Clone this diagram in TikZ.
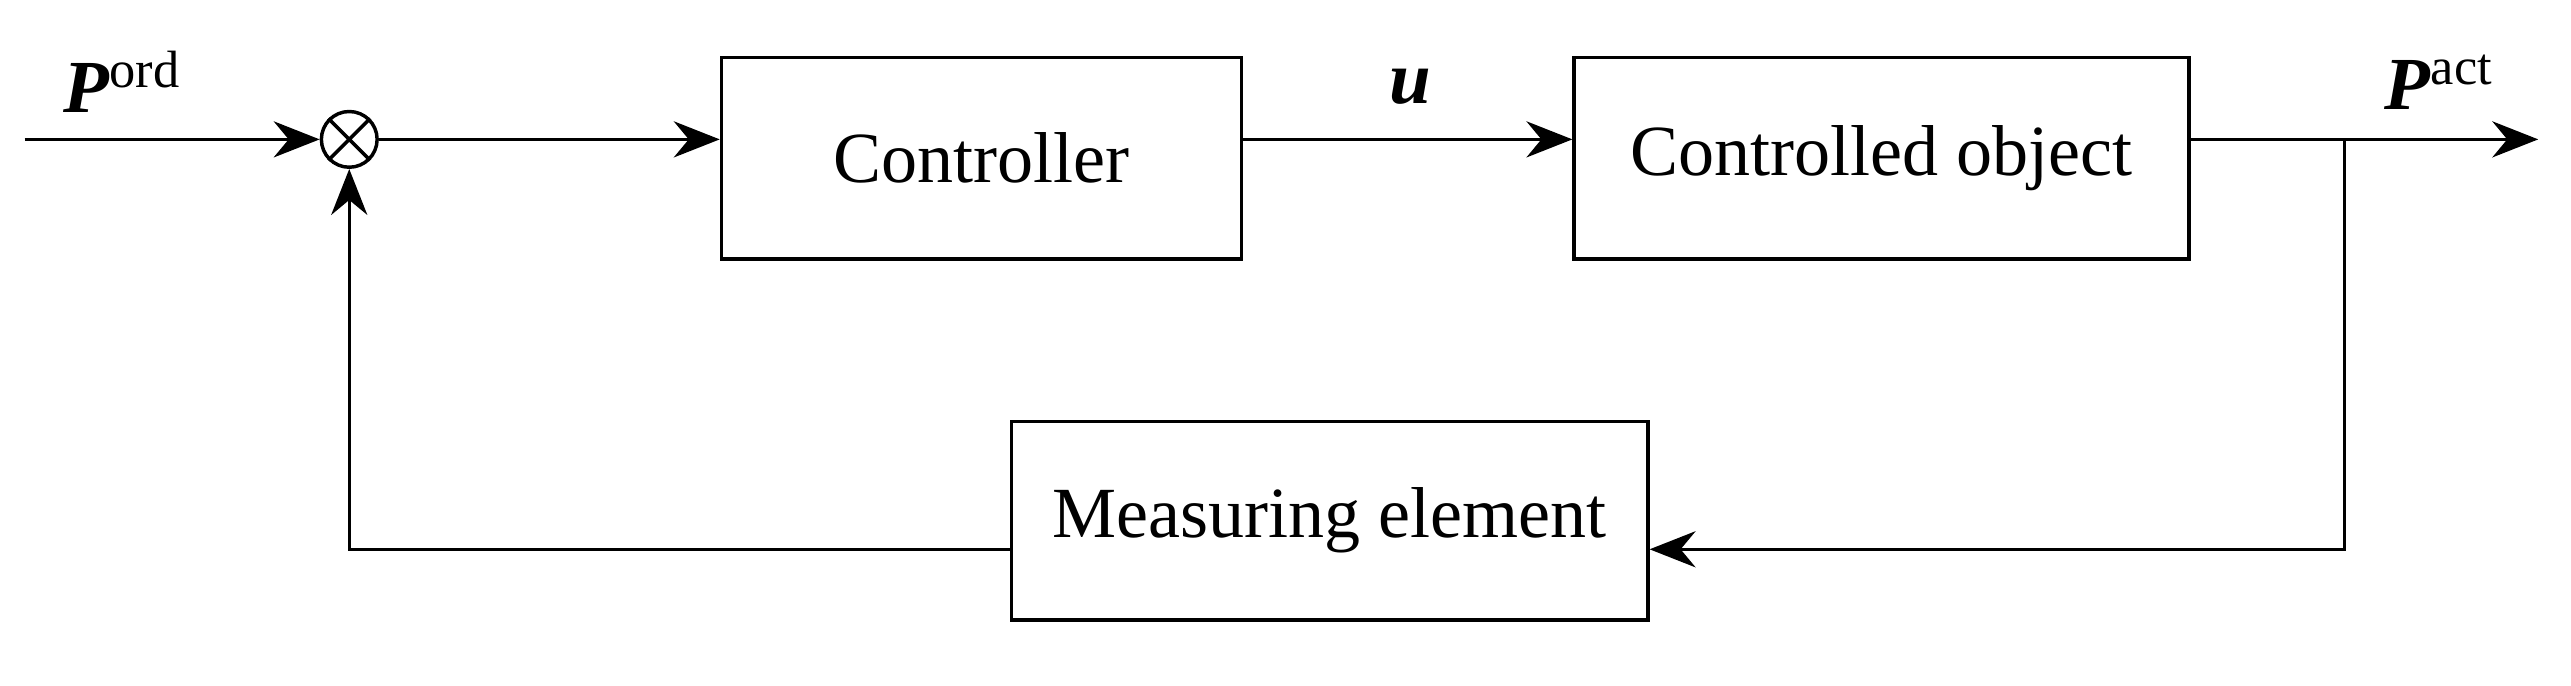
\documentclass[tikz,border=0pt]{standalone}
\usepackage{fontspec}
\setmainfont{Liberation Serif}
\usetikzlibrary{calc,positioning,arrows.meta}
\tikzset{>={Stealth[width=2.2mm,length=2.8mm]}}
\begin{document}
\begin{tikzpicture}
          \tikzstyle{block} = [draw=black, line width=0.6pt, minimum height=1.23cm, font=\fontsize{12.5}{15}\selectfont]
          \tikzstyle{wire} = [line width=0.6pt]
          \tikzstyle{lbl} = [font=\fontsize{13}{15}\selectfont]
          \useasboundingbox (0,0) rectangle (15.68,4.18);

          \node[draw, circle, line width=0.6pt, minimum size=0.34cm, inner sep=0pt] (sum) at (2.13,3.33) {};
          \draw[wire] (sum.north west) -- (sum.south east) (sum.north east) -- (sum.south west);
          \node[block, minimum width=3.17cm] (ctrl) at (5.985,3.215) {Controller};
          \node[block, minimum width=3.75cm] (obj) at (11.475,3.215) {Controlled object};
          \node[block, minimum width=3.88cm, minimum height=1.21cm] (meas) at (8.11,1.005) {Measuring element};

          \coordinate (in) at (0.15,3.33);
          \coordinate (out) at (15.48,3.33);
          \coordinate (branch) at (14.30,3.33);
          \coordinate (fbr) at (14.30,0.83);
          \coordinate (fbl) at (2.13,0.83);

          \draw[wire,->] (in) -- (sum);
          \draw[wire,->] (sum) -- (ctrl.west |- sum);
          \draw[wire,->] (ctrl.east |- sum) -- (obj.west |- sum);
          \draw[wire,->] (obj.east |- sum) -- (out);
          \draw[wire,->] (branch) -- (fbr) -- (meas.east |- fbr);
          \draw[wire,->] (meas.west |- fbl) -- (fbl) -- (sum);

          \node[lbl] (pord) at (0.75,3.68) {\textbf{\textit{P}}\textsuperscript{ord}};
          \node[lbl] (uu) at (8.60,3.65) {\textbf{\textit{u}}};
          \node[lbl] (pact) at (14.88,3.68) {\textbf{\textit{P}}\textsuperscript{act}};
\end{tikzpicture}
\end{document}
